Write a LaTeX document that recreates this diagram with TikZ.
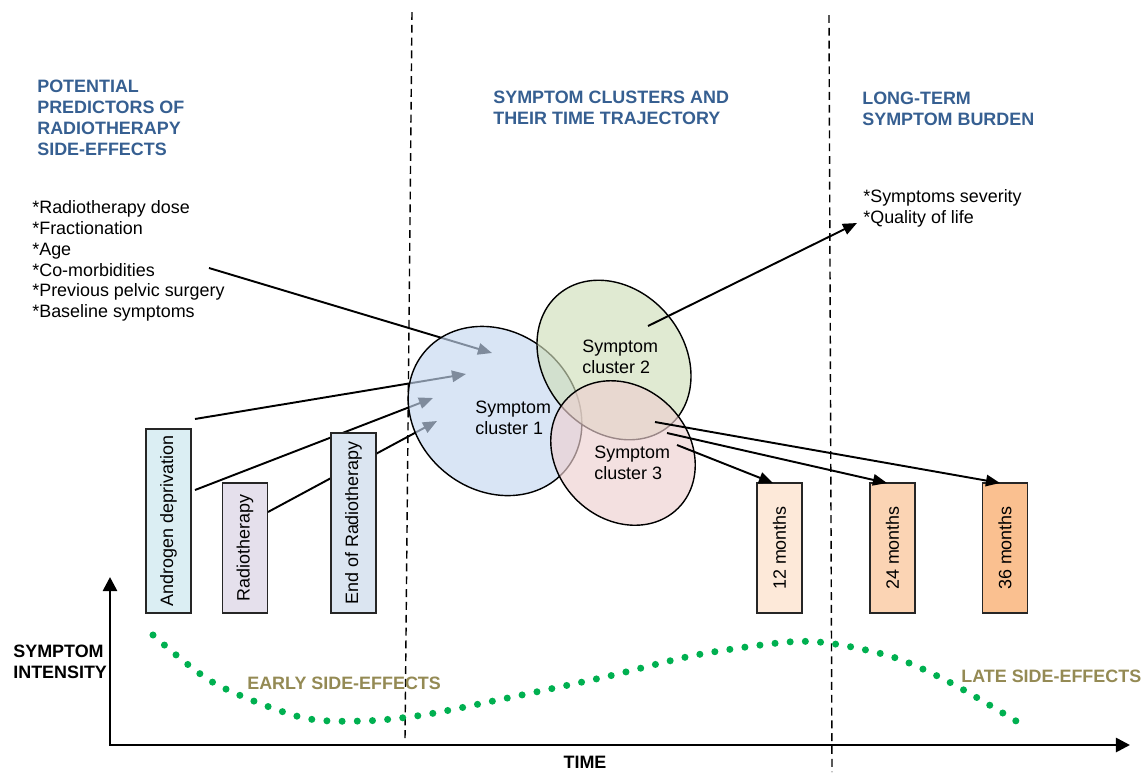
\documentclass[tikz,border=0pt]{standalone}
\usepackage{fontspec}
\setmainfont{Liberation Sans}
\usetikzlibrary{shapes.geometric,arrows.meta}

\definecolor{headblue}{RGB}{54,95,145}
\definecolor{sidefx}{RGB}{148,138,84}
\definecolor{dotgreen}{RGB}{0,176,80}
\definecolor{clusterA}{RGB}{196,215,240}
\definecolor{clusterB}{RGB}{208,222,186}
\definecolor{clusterC}{RGB}{237,208,208}
\definecolor{boxADT}{RGB}{219,238,243}
\definecolor{boxRT}{RGB}{229,224,236}
\definecolor{boxERT}{RGB}{219,229,241}
\definecolor{boxMa}{RGB}{253,233,217}
\definecolor{boxMb}{RGB}{251,212,180}
\definecolor{boxMc}{RGB}{250,192,144}

\begin{document}
\begin{tikzpicture}[x=0.02cm, y=-0.02cm,
    font=\fontsize{10.2}{11.9}\selectfont,
    txt/.style={inner sep=0pt, align=left},
    heading/.style={txt, anchor=north west, text=headblue, font=\fontsize{10.2}{11.9}\selectfont\bfseries},
    axislabel/.style={txt, font=\fontsize{10.2}{11.9}\selectfont\bfseries},
    phaselabel/.style={txt, anchor=base west, text=sidefx, font=\fontsize{10.2}{11.9}\selectfont\bfseries},
    divider/.style={line width=0.8pt, dash pattern=on 4.5pt off 2.8pt},
    link/.style={line width=1.1pt, -{Triangle[length=8pt,width=6.5pt]}},
    cluster/.style={ellipse, draw=black, line width=0.8pt, fill opacity=0.65, inner sep=0pt},
    period/.style={draw=black!85, line width=0.8pt, rotate=90, minimum height=0.9cm, inner sep=0pt},
    intensity/.style={dotgreen, line width=4pt, line cap=round, dash pattern=on 0pt off 8.65pt}
]

\useasboundingbox (0,0) rectangle (1147,772);

\coordinate (d1top) at (412,12);
\coordinate (d1bot) at (405,740);
\coordinate (d2top) at (829,15);
\coordinate (d2bot) at (832,772);
\draw[divider] (d1top) -- (d1bot);
\draw[divider] (d2top) -- (d2bot);

\node[heading] (hpred) at (37,80) {POTENTIAL\\PREDICTORS OF\\RADIOTHERAPY\\SIDE-EFFECTS};
\node[heading] (hclus) at (493,91) {SYMPTOM CLUSTERS AND\\THEIR TIME TRAJECTORY};
\node[heading] (hburd) at (862,92) {LONG-TERM\\SYMPTOM BURDEN};

\node[txt, anchor=north west] (pred) at (32,200) {*Radiotherapy dose\\*Fractionation\\*Age\\*Co-morbidities\\*Previous pelvic surgery\\*Baseline symptoms};
\node[txt, anchor=north west] (burd) at (863,189) {*Symptoms severity\\*Quality of life};

\coordinate (cmb) at (209,268);
\coordinate (a1) at (195,419);
\coordinate (a2) at (195,490);
\coordinate (r1) at (268,512);
\coordinate (t1) at (492,353);
\coordinate (t2) at (466,374);
\coordinate (t3) at (433,398);
\coordinate (t4) at (437,421);

\draw[link] (cmb) -- (t1);
\draw[link] (a1) -- (t2);
\draw[link] (a2) -- (t3);
\draw[link] (r1) -- (t4);

\node[cluster, fill=clusterA, minimum width=3.68cm, minimum height=3.16cm, rotate=-40] (cl1) at (495,411) {};
\node[cluster, fill=clusterB, minimum width=3.44cm, minimum height=2.8cm, rotate=-50] (cl2) at (614,360) {};
\node[cluster, fill=clusterC, minimum width=3.12cm, minimum height=2.64cm, rotate=-45] (cl3) at (623,453) {};

\node[txt, anchor=west] (cl1t) at (475,418) {Symptom\\cluster 1};
\node[txt, anchor=west] (cl2t) at (582,357) {Symptom\\cluster 2};
\node[txt, anchor=west] (cl3t) at (594,463) {Symptom\\cluster 3};

\node[period, fill=boxADT, minimum width=3.68cm] (adt) at (168.5,521) {Androgen deprivation};
\node[period, fill=boxRT, minimum width=2.6cm] (rt) at (245,548) {Radiotherapy};
\node[period, fill=boxERT, minimum width=3.6cm] (ert) at (353.5,523) {End of Radiotherapy};
\node[period, fill=boxMa, minimum width=2.6cm] (m12) at (779.5,548) {12 months};
\node[period, fill=boxMb, minimum width=2.6cm] (m24) at (892.5,548) {24 months};
\node[period, fill=boxMc, minimum width=2.6cm] (m36) at (1005,548) {36 months};

\coordinate (s2) at (648,326);
\coordinate (qol) at (857,223);
\coordinate (s3a) at (655,422);
\coordinate (s3b) at (667,433);
\coordinate (s3c) at (677,445);
\coordinate (e12) at (773,483);
\coordinate (e24) at (887,483);
\coordinate (e36) at (1000,483);

\draw[link] (s2) -- (qol);
\draw[link] (s3a) -- (e36);
\draw[link] (s3b) -- (e24);
\draw[link] (s3c) -- (e12);

\coordinate (orig) at (110,745);
\coordinate (ytop) at (110,577);
\coordinate (xend) at (1130,745);
\draw[line width=1.5pt, {Triangle[length=8pt,width=8pt]}-{Triangle[length=8pt,width=8pt]}] (ytop) -- (orig) -- (xend);

\draw[intensity] plot[smooth] coordinates {(153,635) (214,683) (300,717) (362,721) (423,715) (498,700) (605,677) (696,655) (788,642) (835,644) (896,658) (953,684) (1021,724)};

\node[axislabel, anchor=north west] (yl) at (13,645) {SYMPTOM\\INTENSITY};
\node[axislabel, anchor=base] (xl) at (585,768) {TIME};
\node[phaselabel] (early) at (247,689) {EARLY SIDE-EFFECTS};
\node[phaselabel] (late) at (961,682) {LATE SIDE-EFFECTS};

\end{tikzpicture}
\end{document}
